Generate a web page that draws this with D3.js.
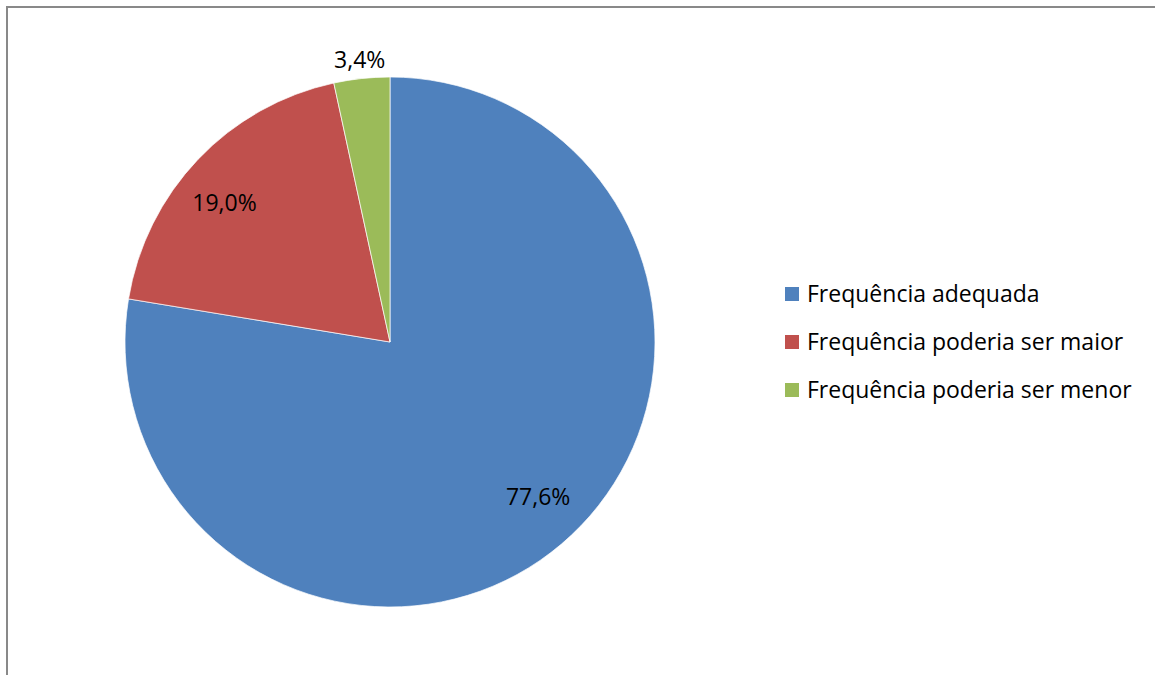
<!doctype html>
<html>
<head>
    <meta charset="utf-8">
    <script src="https://d3js.org/d3.v7.min.js"></script>
</head>
<style>
    body { margin: 0; background: #fff; }
    svg text {
        font-family: "Open Sans", Lato, sans-serif;
        font-size: 23px;
        fill: #000;
    }
</style>
<body>
    <div id="pie-chart"></div>
    <script>
        // categories and values (percent)
        var categories = ["Frequência adequada", "Frequência poderia ser maior", "Frequência poderia ser menor"];
        var values = [77.6, 19.0, 3.4];
        var labels = ["77,6%", "19,0%", "3,4%"];
        var colors = ["#4F81BD", "#C0504D", "#9BBB59"];

        var width = 1155,
            height = 675,
            cx = 390,
            cy = 342,
            radius = 265;

        var svg = d3.select("#pie-chart")
                    .append("svg")
                    .attr("width", width)
                    .attr("height", height);

        // chart border (only top & left visible in the frame)
        svg.append("rect")
           .attr("x", 7)
           .attr("y", 7)
           .attr("width", width + 20)
           .attr("height", height + 20)
           .attr("fill", "none")
           .attr("stroke", "#898989")
           .attr("stroke-width", 2);

        var pie = d3.pie().sort(null).value(function(d) { return d; });
        var arcs = pie(values);

        var arc = d3.arc().innerRadius(0).outerRadius(radius);

        var g = svg.append("g")
                   .attr("transform", "translate(" + cx + "," + cy + ")");

        g.selectAll("path")
         .data(arcs)
         .enter()
         .append("path")
         .attr("d", arc)
         .attr("fill", function(d, i) { return colors[i]; })
         .attr("stroke", "#fff")
         .attr("stroke-width", 0.7);

        // label placement: radius along the mid-angle, plus a small nudge (best fit)
        var labelRadius = [215, 216, 284];
        var labelNudge = [[9, -9], [-9, 10], [0, 0]];

        g.selectAll("text")
         .data(arcs)
         .enter()
         .append("text")
         .attr("transform", function(d, i) {
             var a = (d.startAngle + d.endAngle) / 2;
             var r = labelRadius[i];
             var x = r * Math.sin(a) + labelNudge[i][0];
             var y = -r * Math.cos(a) + labelNudge[i][1];
             return "translate(" + x + "," + y + ")";
         })
         .attr("text-anchor", "middle")
         .attr("dy", "0.35em")
         .text(function(d, i) { return labels[i]; });

        // legend
        var legend = svg.selectAll(".legend")
                        .data(categories)
                        .enter()
                        .append("g")
                        .attr("class", "legend")
                        .attr("transform", function(d, i) {
                            return "translate(785," + (294 + i * 48) + ")";
                        });

        legend.append("rect")
              .attr("x", 0)
              .attr("y", -7)
              .attr("width", 14)
              .attr("height", 14)
              .attr("fill", function(d, i) { return colors[i]; });

        legend.append("text")
              .attr("x", 22)
              .attr("dy", "0.35em")
              .text(function(d) { return d; });
    </script>
</body>
</html>
